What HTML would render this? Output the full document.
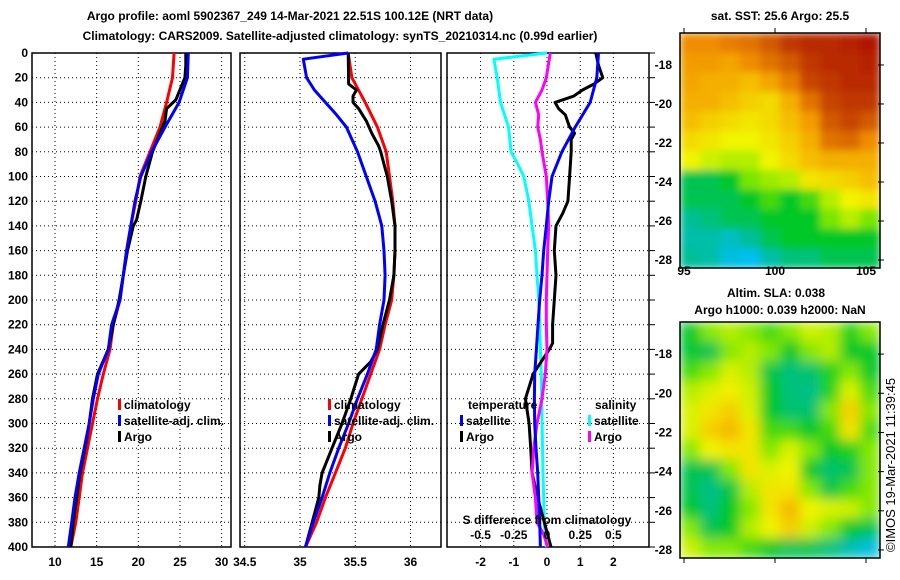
<!DOCTYPE html>
<html><head><meta charset="utf-8"><style>
html,body{margin:0;padding:0;background:#fff;}
svg{display:block;}
text{font-family:"Liberation Sans",sans-serif;font-weight:bold;font-size:12px;fill:#000;}
</style></head><body>
<svg id="s" width="900" height="580" viewBox="0 0 900 580" xmlns="http://www.w3.org/2000/svg">
<defs>
<filter id="blur1" x="0" y="0" width="1" height="1"><feGaussianBlur stdDeviation="4" edgeMode="duplicate"/></filter>
<filter id="blur2" x="0" y="0" width="1" height="1"><feGaussianBlur stdDeviation="6" edgeMode="duplicate"/></filter>
<clipPath id="c1"><rect x="680" y="33" width="200" height="235"/></clipPath>
<clipPath id="c2"><rect x="680" y="322" width="200" height="236"/></clipPath>
</defs>
<text x="290" y="20" text-anchor="middle" font-size="13">Argo profile: aoml 5902367_249 14-Mar-2021 22.51S 100.12E (NRT data)</text>
<text x="340" y="40" text-anchor="middle" font-size="13">Climatology: CARS2009. Satellite-adjusted climatology: synTS_20210314.nc (0.99d earlier)</text>
<text x="780" y="20" text-anchor="middle">sat. SST: 25.6 Argo: 25.5</text>
<text x="776" y="297" text-anchor="middle">Altim. SLA: 0.038</text>
<text x="780" y="314" text-anchor="middle">Argo h1000: 0.039 h2000: NaN</text>
<text transform="translate(895,552) rotate(-90)" style="font-weight:normal;font-size:13px">©IMOS 19-Mar-2021 11:39:45</text>
<g id="g"></g>
</svg>
<script>
// ---- data ----
const depths = [0,20,40,60,80,100,120,140,160,180,200,220,240,260,280,300,320,340,360,380,400];
const climT = [24.3,24.1,23.4,22.6,21.4,20.2,19.7,19.1,18.6,18.2,17.8,17.0,16.6,15.8,15.1,14.5,13.9,13.3,12.9,12.5,11.9];
const satT  = [26.0,25.9,24.9,23.2,21.6,20.3,19.6,19.1,18.6,18.2,17.8,16.8,16.4,15.2,14.6,14.1,13.5,12.9,12.4,12.0,11.6];
const argoDepthT = [0,10,20,30,38,45,55,65,80,100,120,135,140,160,180,200,220,240,260,280,300,320,340,360,380,400];
const argoT = [25.7,25.7,25.6,25.0,24.5,23.4,23.2,22.6,21.7,20.9,20.3,19.8,19.4,18.7,18.2,17.7,17.0,16.4,15.1,14.5,14.1,13.6,13.0,12.6,12.2,11.9];
const climS = [35.436,35.47,35.59,35.70,35.78,35.81,35.84,35.86,35.86,35.85,35.83,35.77,35.72,35.64,35.56,35.48,35.41,35.32,35.23,35.15,35.05];
const satDepthS = [0,5,10,20,30,40,50,60,80,100,120,140,160,180,200,220,240,260,280,300,320,340,360,380,400];
const satS = [35.436,35.03,35.04,35.06,35.13,35.23,35.33,35.42,35.52,35.60,35.68,35.74,35.76,35.77,35.76,35.72,35.69,35.61,35.52,35.44,35.35,35.27,35.20,35.12,35.05];
const argoDepthS = [0,20,25,30,35,40,45,55,65,75,80,100,120,140,160,180,200,220,240,250,260,280,300,320,340,350,360,380,400];
const argoS = [35.436,35.44,35.44,35.51,35.48,35.48,35.53,35.60,35.65,35.71,35.73,35.79,35.83,35.86,35.86,35.85,35.81,35.75,35.70,35.64,35.53,35.46,35.38,35.29,35.20,35.18,35.17,35.11,35.05];
const diffSatT = [1.55,1.5,1.3,0.85,0.45,0.15,0.05,-0.02,-0.1,-0.15,-0.22,-0.27,-0.32,-0.37,-0.38,-0.37,-0.33,-0.28,-0.25,-0.22,-0.2];
const diffDepthArgoT = [0,10,20,25,30,35,40,45,50,60,65,70,80,100,120,130,140,160,180,200,220,235,240,260,280,300,320,340,360,380,400];
const diffArgoT = [1.47,1.55,1.68,1.42,1.07,0.8,0.24,0.35,0.55,0.68,0.83,0.73,0.73,0.68,0.63,0.47,0.27,0.22,0.27,0.22,0.17,0.17,0.07,-0.42,-0.65,-0.54,-0.49,-0.45,-0.28,-0.08,0.12];
const diffDepthSatS = [0,5,20,40,60,80,90,100,120,140,160,180,200,220,240,260,300,340,380,400];
const diffSatS = [0,-0.4,-0.375,-0.35,-0.29,-0.27,-0.22,-0.175,-0.137,-0.112,-0.087,-0.075,-0.062,-0.055,-0.05,-0.043,-0.037,-0.03,-0.02,-0.005];
const diffDepthArgoS = [0,20,30,40,50,60,70,80,100,120,140,160,180,200,220,240,260,280,300,320,340,360,380,390,400];
const diffArgoS = [0.025,-0.005,-0.0375,-0.0875,-0.0625,-0.07,-0.05,-0.0375,-0.005,0.005,0.0125,0.005,0,-0.005,-0.005,0,-0.0125,-0.0375,-0.075,-0.1,-0.1125,-0.0875,-0.075,-0.025,0.005];
const depthTicks = [0,20,40,60,80,100,120,140,160,180,200,220,240,260,280,300,320,340,360,380,400];
const tTicks = [10,15,20,25,30];
const sTicks = [34.5,35,35.5,36];
const dTicks = [-2,-1,0,1,2];
const sdTicks = [-0.5,-0.25,0,0.25,0.5];
const latTicks = [-18,-20,-22,-24,-26,-28];
const lonTicks = [95,100,105];
const sstGrid = [
[0.75,0.75,0.78,0.8,0.85,0.9,0.92,0.92,0.93,0.95],
[0.72,0.72,0.7,0.75,0.8,0.85,0.9,0.92,0.92,0.93],
[0.7,0.68,0.68,0.65,0.7,0.78,0.88,0.9,0.92,0.92],
[0.68,0.68,0.65,0.62,0.6,0.68,0.8,0.88,0.9,0.9],
[0.65,0.62,0.6,0.58,0.6,0.65,0.72,0.85,0.88,0.85],
[0.6,0.58,0.55,0.55,0.58,0.62,0.68,0.8,0.82,0.75],
[0.55,0.52,0.5,0.5,0.55,0.6,0.65,0.68,0.68,0.68],
[0.35,0.35,0.38,0.45,0.48,0.5,0.58,0.6,0.62,0.65],
[0.35,0.35,0.35,0.38,0.42,0.38,0.42,0.5,0.55,0.58],
[0.3,0.32,0.35,0.35,0.38,0.38,0.38,0.45,0.5,0.45],
[0.28,0.28,0.25,0.3,0.35,0.38,0.38,0.38,0.38,0.38],
[0.3,0.28,0.22,0.2,0.28,0.32,0.32,0.35,0.35,0.35]];
const slaGrid = [
[0.38,0.46,0.5,0.46,0.42,0.46,0.52,0.5,0.4,0.46],
[0.37,0.35,0.46,0.5,0.46,0.38,0.46,0.5,0.38,0.38],
[0.42,0.46,0.53,0.5,0.36,0.32,0.33,0.4,0.46,0.38],
[0.5,0.53,0.56,0.52,0.38,0.32,0.31,0.4,0.53,0.42],
[0.53,0.58,0.62,0.53,0.38,0.33,0.33,0.46,0.62,0.46],
[0.53,0.62,0.66,0.58,0.42,0.42,0.38,0.42,0.58,0.42],
[0.46,0.55,0.58,0.58,0.46,0.53,0.46,0.38,0.4,0.46],
[0.35,0.35,0.46,0.58,0.53,0.55,0.38,0.33,0.35,0.46],
[0.35,0.31,0.36,0.5,0.58,0.58,0.46,0.36,0.42,0.46],
[0.38,0.32,0.38,0.46,0.58,0.66,0.55,0.53,0.52,0.46],
[0.46,0.35,0.38,0.5,0.55,0.62,0.52,0.46,0.38,0.35],
[0.52,0.46,0.46,0.42,0.38,0.35,0.35,0.32,0.27,0.22]];

// ---- helpers ----
const NS='http://www.w3.org/2000/svg';
const G=document.getElementById('g');
function mk(tag,attrs,parent){const e=document.createElementNS(NS,tag);for(const k in attrs)e.setAttribute(k,attrs[k]);(parent||G).appendChild(e);return e;}
const Y0=53,Y1=547;
const yD=d=>Y0+(d/400)*(Y1-Y0);
const xT=t=>55+(t-10)*8.33;
const xS=s=>300+(s-35)*110.5;
const xD=v=>547+v*33.2;
const xSD=v=>547+v*4*33.2;
const panels=[{x0:32,x1:231,ticks:tTicks,f:xT,name:'temperature-panel'},{x0:240,x1:441,ticks:sTicks,f:xS,name:'salinity-panel'},{x0:447,x1:649,ticks:dTicks,f:xD,name:'difference-panel'}];
panels.forEach((p,pi)=>{
  const grp=mk('g',{});
  
  
  depthTicks.forEach(d=>{if(d>0&&d<400){const l=mk('line',{x1:p.x0,x2:p.x1,y1:yD(d),y2:yD(d),stroke:'#000','stroke-width':1,'stroke-dasharray':'1 3'},grp);
    }});
  p.ticks.forEach(t=>{const x=p.f(t);if(x>p.x0+2&&x<p.x1-2){const l=mk('line',{x1:x,x2:x,y1:Y0,y2:Y1,stroke:'#000','stroke-width':1,'stroke-dasharray':'1 3'},grp);
    }
    const tx=mk('text',{x:x,y:566,'text-anchor':'middle'},grp);tx.textContent=String(t);
    });
  const r=mk('rect',{x:p.x0,y:Y0,width:p.x1-p.x0,height:Y1-Y0,fill:'none',stroke:'#000','stroke-width':1.5},grp);
  
});
depthTicks.forEach(d=>{const t=mk('text',{x:28,y:yD(d)+4,'text-anchor':'end'});t.textContent=String(d);
  });
depthTicks.forEach(d=>{const l=mk('line',{x1:649,x2:655,y1:yD(d),y2:yD(d),stroke:'#000','stroke-width':1});
  });

function line(xs,ds,fx,color,name){
  const pts=xs.map((v,i)=>fx(v).toFixed(1)+','+yD(ds[i]).toFixed(1)).join(' ');
  const e=mk('polyline',{points:pts,fill:'none',stroke:color,'stroke-width':3,'stroke-linejoin':'round'});
  
  
}
line(climT,depths,xT,'#ff0000','clim-temperature-line');
line(argoT,argoDepthT,xT,'#000','argo-temperature-line');
line(satT,depths,xT,'#0000ff','sat-temperature-line');
line(climS,depths,xS,'#ff0000','clim-salinity-line');
line(argoS,argoDepthS,xS,'#000','argo-salinity-line');
line(satS,satDepthS,xS,'#0000ff','sat-salinity-line');
line(diffSatS,diffDepthSatS,xSD,'#00ffff','sat-salinity-diff-line');
line(diffArgoT,diffDepthArgoT,xD,'#000','argo-temperature-diff-line');
line(diffArgoS,diffDepthArgoS,xSD,'#ff00ff','argo-salinity-diff-line');
line(diffSatT,depths,xD,'#0000ff','sat-temperature-diff-line');

function legend(x,y,color,label,name){
  const g=mk('g',{});
  
  
  mk('rect',{x:x,y:y-10,width:3,height:11,fill:color},g);
  const t=mk('text',{x:x+6,y:y},g);t.textContent=label;
}
legend(118,409,'#ff0000','climatology','legend-climatology');
legend(118,425,'#0000ff','satellite-adj. clim.','legend-satellite-adj');
legend(118,441,'#000','Argo','legend-argo');
legend(328,409,'#ff0000','climatology','legend-climatology-s');
legend(328,425,'#0000ff','satellite-adj. clim.','legend-satellite-adj-s');
legend(328,441,'#000','Argo','legend-argo-s');
let t;
t=mk('text',{x:468,y:409});t.textContent='temperature';
t=mk('text',{x:595,y:409});t.textContent='salinity';
legend(460,425,'#0000ff','satellite','legend-temp-satellite');
legend(460,441,'#000','Argo','legend-temp-argo');
legend(588,425,'#00ffff','satellite','legend-sal-satellite');
legend(588,441,'#ff00ff','Argo','legend-sal-argo');
t=mk('text',{x:547,y:524,'text-anchor':'middle'});t.textContent='S difference from climatology';
sdTicks.forEach(v=>{const e=mk('text',{x:xSD(v),y:539,'text-anchor':'middle'});e.textContent=String(v);
  });

// ---- maps ----
const stops=[[0.2,[0,190,240]],[0.3,[0,190,150]],[0.38,[0,200,40]],[0.45,[120,230,0]],[0.55,[240,245,0]],[0.65,[245,190,0]],[0.75,[240,140,0]],[0.85,[210,90,0]],[0.95,[175,20,0]]];
function cmap(v){if(v<=stops[0][0])return 'rgb('+stops[0][1]+')';
  for(let i=1;i<stops.length;i++){if(v<=stops[i][0]){const a=stops[i-1],b=stops[i],f=(v-a[0])/(b[0]-a[0]);
    return 'rgb('+a[1].map((c,k)=>Math.round(c+(b[1][k]-c)*f)).join(',')+')';}}
  return 'rgb('+stops[stops.length-1][1]+')';}
function map(grid,x0,y0,w,h,clip,filt,name){
  const g=mk('g',{'clip-path':'url(#'+clip+')'});
  
  
  const inner=mk('g',{filter:'url(#'+filt+')'},g);
  const nr=grid.length,nc=grid[0].length,cw=w/nc,ch=h/nr;
  grid.forEach((row,r)=>row.forEach((v,c)=>{mk('rect',{x:x0+c*cw,y:y0+r*ch,width:cw+0.6,height:ch+0.6,fill:cmap(v)},inner);}));
  const fr=mk('rect',{x:x0,y:y0,width:w,height:h,fill:'none',stroke:'#000','stroke-width':1.5});
  
}
map(sstGrid,680,33,200,235,'c1','blur1','sst-map');
map(slaGrid,680,322,200,236,'c2','blur2','sla-map');
function latY(lat,top,h){return top+h*(0.136+(-18-lat)/10*0.83);}
latTicks.forEach(l=>{[[33,235],[322,236]].forEach(([top,h])=>{const y=latY(l,top,h);
  const e=mk('text',{x:672,y:y+4,'text-anchor':'end'});e.textContent=String(l);
  
  mk('line',{x1:878,x2:884,y1:y,y2:y,stroke:'#000'});});});
lonTicks.forEach(l=>{const x=684+(l-95)/10*182;
  const e=mk('text',{x:x,y:275,'text-anchor':'middle'});e.textContent=String(l);
  
  mk('line',{x1:x,x2:x,y1:28,y2:33,stroke:'#000'});mk('line',{x1:x,x2:x,y1:558,y2:563,stroke:'#000'});});
</script>
</body></html>
